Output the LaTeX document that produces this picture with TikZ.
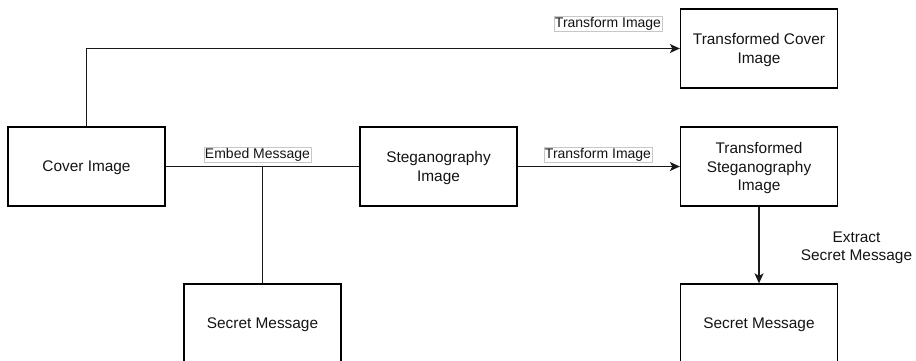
\documentclass[tikz,border=0pt]{standalone}
\usepackage{fontspec}
\setmainfont{Liberation Sans}
\usetikzlibrary{arrows.meta}

\begin{document}
\begin{tikzpicture}[x=1pt, y=-1pt,
  box/.style={draw=black, line width=1.3pt, fill=white, minimum width=157pt,
    minimum height=79pt, align=center, text=black!92, text depth=0pt,
    font=\fontsize{15.4}{18.8}\selectfont},
  lbl/.style={draw=black!22, line width=0.6pt, fill=white, inner xsep=1pt,
    inner ysep=1.2pt, text=black!92, font=\fontsize{14}{16}\selectfont},
  conn/.style={draw=black!90, line width=1.3pt},
  arr/.style={conn, -{Stealth[length=10pt, width=9pt, inset=2.5pt]}}]

  \useasboundingbox (0,0) rectangle (916,360);
  \clip (0,0) rectangle (916,360);
  \fill[white] (0,0) rectangle (916,360);

  % boxes
  \node[box] (cover)   at (86.5,166.5) {Cover Image};
  \node[box] (stego)   at (438.5,166.5) {Steganography\\Image};
  \node[box] (tcover)  at (759,48.5) {Transformed Cover\\Image};
  \node[box] (tstego)  at (759,166.5) {Transformed\\Steganography\\Image};
  \node[box] (secretL) at (262.5,323.5) {Secret Message};
  \node[box] (secretR) at (759,323.5) {Secret Message};

  % connectors
  \draw[arr] (cover.north) |- (tcover.west);
  \draw[conn] (cover.east) -- (stego.west);
  \draw[conn] (secretL.north) -- (secretL.north |- cover.east);
  \draw[arr] (stego.east) -- (tstego.west);
  \draw[arr] (tstego.south) -- (secretR.north);

  % connector labels
  \node[lbl] (lblTop)   at (608,24) {Transform Image};
  \node[lbl] (lblEmbed) at (257.5,155) {Embed Message};
  \node[lbl] (lblMid)   at (598,155) {Transform Image};
  \node[align=center, text=black!92, text depth=0pt,
    font=\fontsize{15.4}{17.5}\selectfont]
    (lblExtract) at (856.5,246) {Extract\\Secret Message};
\end{tikzpicture}
\end{document}
